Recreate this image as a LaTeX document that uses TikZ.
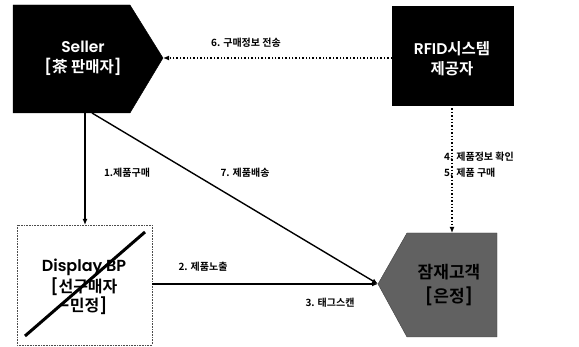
\documentclass[tikz,border=0pt]{standalone}
\usepackage{fontspec}
\setmainfont{Noto Sans CJK KR}[BoldFont={Noto Sans CJK KR Bold}]
\newfontfamily\lat{Poppins}[BoldFont={Poppins SemiBold}]
\usetikzlibrary{arrows.meta}
\begin{document}
\begin{tikzpicture}[x=1pt,y=-1pt,
  lbl/.style={font=\bfseries\fontsize{10}{11}\selectfont, inner sep=0pt},
  boxtxt/.style={font=\bfseries\fontsize{15.5}{18}\selectfont, align=center, inner sep=0pt},
  arr/.style={-{Latex[length=6pt,width=5pt]}, line width=1.4pt},
  darr/.style={-{Latex[length=6pt,width=5pt]}, line width=1.4pt, dotted}]
\useasboundingbox (0,0) rectangle (579,347);
% Seller
\draw[fill=black] (13,5) -- (130,5) -- (163,58) -- (130,113) -- (13,113) -- cycle;
\coordinate (sellertip) at (163,58);
\coordinate (sellerb1) at (85,113);
\coordinate (sellerb2) at (92,113);
\node[boxtxt, text=white] (seller) at (83,58) {{\lat Seller}\\[2pt]{\lat [}茶 판매자{\lat ]}};
% RFID
\draw[fill=black] (392,6) rectangle (513,105);
\coordinate (rfidl) at (392,58);
\coordinate (rfidb) at (452,105);
\node[boxtxt, text=white] (rfid) at (452,59) {{\lat RFID}시스템\\[2pt]제공자};
% customer
\draw[fill=black!62, draw=black!75] (407,233) -- (497,233) -- (497,337) -- (407,337) -- (378,284) -- cycle;
\coordinate (custtip) at (378,284);
\coordinate (custtop) at (452,233);
\node[boxtxt, text=black, font=\bfseries\fontsize{17}{20}\selectfont] (cust) at (449,285) {잠재고객\\[4pt]{\lat [}은정{\lat ]}};
% display
\draw[densely dotted, black!70, line width=0.6pt] (17,225) rectangle (152,345);
\coordinate (disptop) at (85,225);
\coordinate (dispr) at (152,284);
\node[boxtxt, font=\bfseries\fontsize{16}{18}\selectfont] (disp) at (84,287) {{\lat Display BP}\\[1pt]{\lat [}선구매자\\[1pt]{\lat -}민정{\lat ]}};
\draw[line width=3pt] (25,336) -- (145,232);
% connectors
\draw[darr] (rfidl) -- (sellertip);
\node[lbl] (l6) at (246,43) {6. 구매정보 전송};
\draw[darr] (rfidb) -- (custtop);
\node[lbl, anchor=west] (l4) at (444,157) {4. 제품정보 확인};
\node[lbl, anchor=west] (l5) at (444,173) {5. 제품 구매};
\draw[arr, line width=1.2pt] (sellerb1) -- (disptop);
\node[lbl] (l1) at (127,173) {1.제품구매};
\draw[arr] (sellerb2) -- (custtip);
\node[lbl] (l7) at (245,173) {7. 제품배송};
\draw[arr] (dispr) -- (custtip);
\node[lbl] (l2) at (203,267) {2. 제품노출};
\node[lbl] (l3) at (330,303) {3. 태그스캔};
\end{tikzpicture}
\end{document}
